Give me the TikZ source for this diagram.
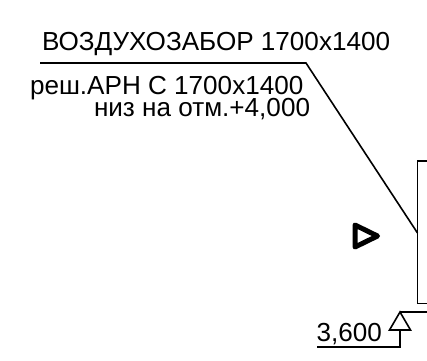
\documentclass[tikz,border=0pt]{standalone}
\usepackage{fontspec}
\setmainfont{Liberation Sans}
\tikzset{
  ln/.style={draw=black,line width=1.6pt},
  lbl/.style={inner sep=0pt,outer sep=0pt,text=black,font=\fontsize{26.1}{28}\selectfont},
}
\begin{document}
\begin{tikzpicture}[x=1pt,y=-1pt]
\useasboundingbox[fill=white] (0,0) rectangle (427,360);
\coordinate (leadS) at (40,63);
\coordinate (leadK) at (306,63);
\coordinate (leadE) at (417.5,233);
\coordinate (levR) at (427,312);
\coordinate (levA) at (400,312);
\coordinate (levB) at (400,347);
\coordinate (levS) at (317,347);
\draw[ln] (leadS) -- (leadK) -- (leadE);
\draw[ln] (427,161) -- (417.5,161) -- (417.5,303.5) -- (427,303.5);
\draw[ln] (levR) -- (levA);
\draw[ln,line join=miter] (levA) -- (410.5,330) -- (389.5,330) -- cycle;
\draw[ln] (400,330) -- (levB) -- (levS);
\draw[draw=black,line width=5pt,line join=round] (355,225) -- (377.5,236) -- (355,247) -- cycle;
\node[lbl,anchor=base west] (t1) at (42,50) {ВОЗДУХОЗАБОР 1700x1400};
\node[lbl,anchor=base west] (t2) at (30,94) {реш.АРН С 1700x1400};
\node[lbl,anchor=base west] (t3) at (94,116) {низ на отм.+4,000};
\node[lbl,anchor=base west] (t4) at (316.5,341) {3,600};
\end{tikzpicture}
\end{document}
